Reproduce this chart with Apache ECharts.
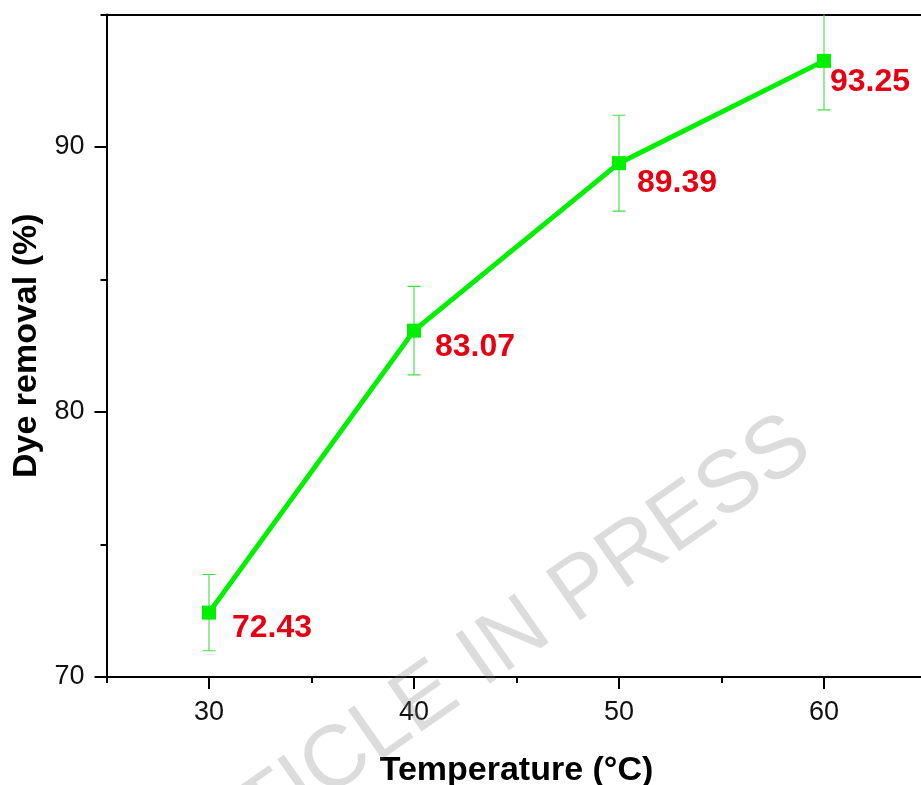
<!DOCTYPE html>
<html>
<head>
<meta charset="utf-8">
<script src="https://cdn.jsdelivr.net/npm/echarts@6/dist/echarts.min.js"></script>
<style>
  html, body { margin: 0; padding: 0; background: #fff; }
  #chart { width: 921px; height: 785px; }
</style>
</head>
<body>
<div id="chart"></div>
<script>
// Temperature series: dye removal with standard deviation
const temperatures = [30, 40, 50, 60];
const dyeRemoval = [72.43, 83.07, 89.39, 93.25];
const removalError = [1.44, 1.67, 1.81, 1.85];
const xTickLabels = [30, 40, 50, 60];
const yTickLabels = [70, 80, 90];

const FONT = '"Liberation Sans", Arial, sans-serif';
const GREEN = '#00f000';
const RED = '#e60012';

const points = temperatures.map((t, i) => [t, dyeRemoval[i]]);
const errPoints = temperatures.map((t, i) => [t, dyeRemoval[i], removalError[i]]);

// per-point label nudges (pixels) so each value sits below-right of its marker
const labelNudge = [[11, 16], [9, 17], [6, 20], [-6, 21]];

const chart = echarts.init(document.getElementById('chart'), null, { renderer: 'canvas' });

const axisLineStyle = { color: '#000', width: 2 };

chart.setOption({
  animation: false,
  backgroundColor: '#fff',
  grid: {
    left: 106.5, right: -5.5, top: 14.5, bottom: 108,
    containLabel: false, outerBoundsMode: 'none'
  },
  xAxis: [
    { // axis line + minor ticks every 5
      type: 'value', position: 'bottom', min: 25, max: 65, interval: 5,
      axisLine: { show: true, onZero: false, lineStyle: axisLineStyle },
      axisTick: { show: true, inside: false, length: 6, lineStyle: { color: '#000', width: 2 } },
      axisLabel: { show: false },
      splitLine: { show: false }
    },
    { // major ticks, labels and title
      type: 'value', position: 'bottom', min: 25, max: 65,
      axisLine: { show: false, onZero: false },
      axisTick: { show: true, length: 12, customValues: xTickLabels, lineStyle: { color: '#000', width: 2 } },
      axisLabel: { show: true, customValues: xTickLabels, margin: 22, fontSize: 27, color: '#111', fontFamily: FONT },
      splitLine: { show: false },
      name: 'Temperature (\u00B0C)', nameLocation: 'middle', nameGap: 77,
      nameTextStyle: { fontSize: 34, fontWeight: 'bold', color: '#000', fontFamily: FONT }
    },
    { // top frame
      type: 'value', position: 'top', min: 25, max: 65,
      axisLine: { show: true, onZero: false, lineStyle: axisLineStyle },
      axisTick: { show: false }, axisLabel: { show: false }, splitLine: { show: false }
    }
  ],
  yAxis: [
    {
      type: 'value', position: 'left', min: 70, max: 95, interval: 5,
      axisLine: { show: true, onZero: false, lineStyle: axisLineStyle },
      axisTick: { show: true, length: 6, lineStyle: { color: '#000', width: 2 } },
      axisLabel: { show: false },
      splitLine: { show: false }
    },
    {
      type: 'value', position: 'left', min: 70, max: 95,
      axisLine: { show: false, onZero: false },
      axisTick: { show: true, length: 12, customValues: yTickLabels, lineStyle: { color: '#000', width: 2 } },
      axisLabel: { show: true, customValues: yTickLabels, margin: 22, fontSize: 27, color: '#111', fontFamily: FONT },
      splitLine: { show: false },
      name: 'Dye removal (%)', nameLocation: 'middle', nameGap: 58, nameRotate: 90,
      nameTextStyle: { fontSize: 34, fontWeight: 'bold', color: '#000', fontFamily: FONT }
    }
  ],
  series: [
    {
      type: 'custom',
      xAxisIndex: 0, yAxisIndex: 0,
      clip: true,
      z: 1,
      data: errPoints,
      renderItem: function (params, api) {
        const x = api.value(0), y = api.value(1), e = api.value(2);
        const hi = api.coord([x, y + e]);
        const lo = api.coord([x, y - e]);
        const cap = 6.5;
        const style = { stroke: '#3ee03e', lineWidth: 1.1 };
        return {
          type: 'group',
          children: [
            { type: 'line', shape: { x1: hi[0], y1: hi[1], x2: lo[0], y2: lo[1] }, style: style },
            { type: 'line', shape: { x1: hi[0] - cap, y1: hi[1], x2: hi[0] + cap, y2: hi[1] }, style: style },
            { type: 'line', shape: { x1: lo[0] - cap, y1: lo[1], x2: lo[0] + cap, y2: lo[1] }, style: style }
          ]
        };
      }
    },
    {
      type: 'line',
      xAxisIndex: 0, yAxisIndex: 0,
      z: 3,
      data: points.map((p, i) => ({
        value: p,
        label: { offset: labelNudge[i] }
      })),
      symbol: 'rect',
      symbolSize: 14,
      itemStyle: { color: GREEN },
      lineStyle: { color: GREEN, width: 5 },
      label: {
        show: true,
        position: 'right',
        distance: 5,
        formatter: p => p.value[1].toFixed(2),
        fontSize: 32,
        fontWeight: 'bold',
        color: RED,
        fontFamily: FONT
      }
    }
  ],
  graphic: [
    {
      type: 'text',
      x: 476, y: 664,
      rotation: 35 * Math.PI / 180,
      z: 100,
      silent: true,
      style: {
        text: 'ARTICLE IN PRESS',
        font: '87px ' + FONT,
        fill: 'rgba(120,120,120,0.26)',
        textAlign: 'center',
        textVerticalAlign: 'middle'
      }
    }
  ]
});
</script>
</body>
</html>
